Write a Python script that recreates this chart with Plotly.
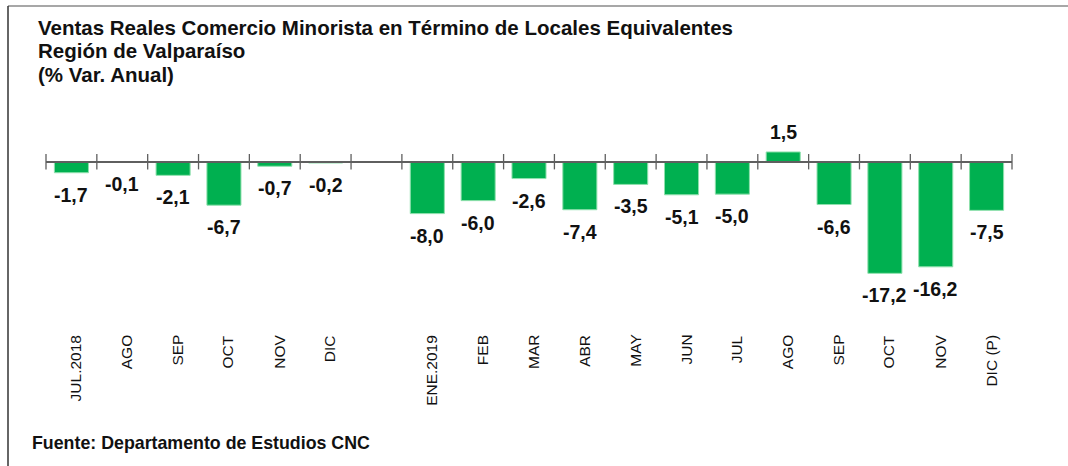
import plotly.graph_objects as go

# ---- data ----
categories = ["JUL.2018", "AGO", "SEP", "OCT", "NOV", "DIC", "",
              "ENE.2019", "FEB", "MAR", "ABR", "MAY", "JUN", "JUL",
              "AGO", "SEP", "OCT", "NOV", "DIC (P)"]
values = [-1.7, -0.1, -2.1, -6.7, -0.7, -0.2, None,
          -8.0, -6.0, -2.6, -7.4, -3.5, -5.1, -5.0,
          1.5, -6.6, -17.2, -16.2, -7.5]
title_lines = ["Ventas Reales Comercio Minorista en Término de Locales Equivalentes",
               "Región de Valparaíso",
               "(% Var. Anual)"]
source_text = "Fuente: Departamento de Estudios CNC"

# ---- layout constants (pixels) ----
W, H = 1068, 466
PL, PR = 46, 1012          # plot area left/right
PT, PB = 100, 333          # plot area top/bottom
Y0 = 161.7                 # pixel of zero line
PX_PER_UNIT = 6.49
ymax = (Y0 - PT) / PX_PER_UNIT
ymin = -(PB - Y0) / PX_PER_UNIT
zero_pos = (0 - ymin) / (ymax - ymin)

def px_x(p):
    return (p - PL) / (PR - PL)

def px_y(p):
    return (PB - p) / (PB - PT)

n = len(categories)
xs = list(range(n))
bounds = [i - 0.5 for i in range(n + 1)]
GREEN = "#00B050"
AXIS = "#5f5f5f"
FONT = "Arial, Liberation Sans, sans-serif"

fig = go.Figure()
fig.add_trace(go.Bar(
    x=xs, y=values,
    marker=dict(color=GREEN, line=dict(color="#8fe0ad", width=1)),
    hoverinfo="skip",
))
# category-boundary tick marks crossing the zero axis
fig.add_trace(go.Scatter(
    x=bounds, y=[0] * len(bounds), mode="markers",
    marker=dict(symbol="line-ns-open", size=11, color=AXIS,
                line=dict(color=AXIS, width=1.3)),
    hoverinfo="skip", cliponaxis=False,
))

annotations = []
# data labels
for x, v in zip(xs, values):
    if v is None:
        continue
    annotations.append(dict(
        x=x, y=v, xref="x", yref="y",
        text="<b>" + f"{v:.1f}".replace(".", ",") + "</b>",
        showarrow=False, xanchor="center", yanchor="middle",
        yshift=(-22 if v < 0 else 20),
        font=dict(family=FONT, size=19.5, color="#111111"),
    ))
# category labels
for x, c in zip(xs, categories):
    if not c:
        continue
    annotations.append(dict(
        x=x, y=0, xref="x", yref="paper",
        text=c, textangle=-90, showarrow=False,
        xanchor="center", yanchor="top", xshift=4,
        font=dict(family=FONT, size=15.5, color="#111111"),
    ))
# title lines
for i, t in enumerate(title_lines):
    annotations.append(dict(
        x=px_x(36), y=px_y(27 + 23.5 * i), xref="paper", yref="paper",
        text="<b>" + t + "</b>", showarrow=False,
        xanchor="left", yanchor="middle",
        font=dict(family=FONT, size=20.5, color="#111111"),
    ))
annotations.append(dict(
    x=px_x(30), y=px_y(443), xref="paper", yref="paper",
    text="<b>" + source_text + "</b>", showarrow=False,
    xanchor="left", yanchor="middle",
    font=dict(family=FONT, size=17.8, color="#111111"),
))

shapes = [
    dict(type="line", xref="paper", yref="paper",
         x0=px_x(8), x1=px_x(W + 5), y0=px_y(6), y1=px_y(6),
         line=dict(color="#8a8a8a", width=1.5)),
    dict(type="line", xref="paper", yref="paper",
         x0=px_x(8), x1=px_x(8), y0=px_y(6), y1=px_y(H + 5),
         line=dict(color="#333333", width=1.5)),
]

fig.update_layout(
    width=W, height=H,
    margin=dict(l=PL, r=W - PR, t=PT, b=H - PB, pad=0),
    paper_bgcolor="white", plot_bgcolor="white",
    showlegend=False, bargap=0.33,
    xaxis=dict(range=[-0.5, n - 0.5], showticklabels=False, ticks="",
               showline=True, linecolor=AXIS, linewidth=1.5,
               showgrid=False, zeroline=False,
               anchor="free", position=zero_pos),
    yaxis=dict(range=[ymin, ymax], visible=False, showgrid=False,
               zeroline=False),
    annotations=annotations, shapes=shapes,
)

fig.write_html("out.html",
               config={"displayModeBar": False},
               post_script="document.body.style.margin='0';"
                           "document.body.style.padding='0';")
